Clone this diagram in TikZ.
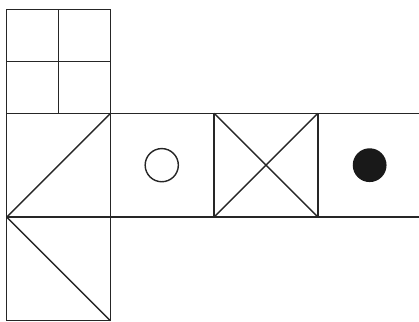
\documentclass[tikz,border=0pt]{standalone}
\usepackage{tikz}
\usetikzlibrary{positioning,calc}

\begin{document}
\begin{tikzpicture}[x=1.8cm,y=1.8cm]
  \useasboundingbox (-0.065,-1.003) rectangle (3.976,2.093);
  % unfolded cube net with face symbols
  \tikzset{edge/.style={line width=0.7pt,black!85}}
  \draw[edge] (0,1) rectangle (1,2);                 % top face
  \draw[edge] (0.5,1) -- (0.5,2);                    % top: vertical split
  \draw[edge] (0,1.5) -- (1,1.5);                    % top: horizontal split
  \draw[edge] (0,1) -- (3.976,1);                    % row top edge
  \draw[edge] (0,0) -- (3.976,0);                    % row bottom edge
  \draw[edge] (0,-1) -- (0,1);                       % left side
  \draw[edge] (1,-1) -- (1,1);
  \draw[edge] (2,0) -- (2,1);
  \draw[edge] (3,0) -- (3,1);
  \draw[edge] (0,-1) -- (1,-1);                      % bottom face
  \draw[edge] (0,0) -- (1,1);                        % diagonal face
  \draw[edge] (0,0) -- (1,-1);                       % bottom diagonal
  \draw[edge] (2,0) -- (3,1);                        % cross face
  \draw[edge] (2,1) -- (3,0);
  \draw[edge] (1.495,0.5) circle (0.16);             % hollow circle
  \fill[black!90] (3.5,0.5) circle (0.163);          % filled circle
\end{tikzpicture}
\end{document}
